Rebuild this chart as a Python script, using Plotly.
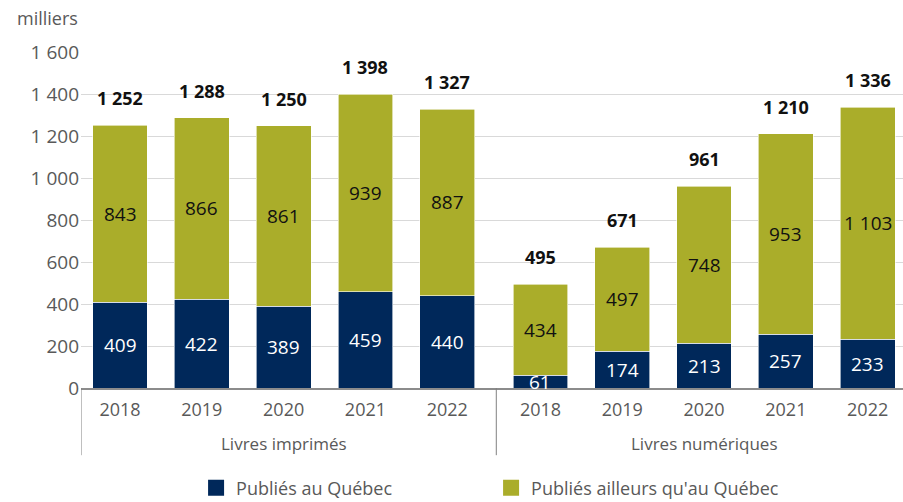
import plotly.graph_objects as go

groups = ["Livres imprimés", "Livres numériques"]
years = ["2018", "2019", "2020", "2021", "2022"]
quebec = [[409, 422, 389, 459, 440], [61, 174, 213, 257, 233]]
ailleurs = [[843, 866, 861, 939, 887], [434, 497, 748, 953, 1103]]
totals = [[1252, 1288, 1250, 1398, 1327], [495, 671, 961, 1210, 1336]]
y_ticks = [0, 200, 400, 600, 800, 1000, 1200, 1400, 1600]
series_names = ["Publiés au Québec", "Publiés ailleurs qu'au Québec"]

NAVY = "#00285a"
OLIVE = "#aaad2a"
GRAY = "#595959"
FONT = "Open Sans"
GAP = 0.14

def fmt(v):
    return f"{v:,}".replace(",", " ")

xs, q_flat, a_flat, t_flat, year_lbl = [], [], [], [], []
for gi in range(len(groups)):
    for yi, yr in enumerate(years):
        xs.append(gi * (len(years) + GAP) + yi)
        q_flat.append(quebec[gi][yi])
        a_flat.append(ailleurs[gi][yi])
        t_flat.append(totals[gi][yi])
        year_lbl.append(yr)

fig = go.Figure()
fig.add_trace(go.Bar(x=xs, y=q_flat, name=series_names[0], marker=dict(color=NAVY, line=dict(color="white", width=0.6)),
                     width=0.67, showlegend=False, hoverinfo="y"))
fig.add_trace(go.Bar(x=xs, y=a_flat, name=series_names[1], marker=dict(color=OLIVE, line=dict(color="white", width=0.6)),
                     width=0.67, showlegend=False, hoverinfo="y"))
# legend entries
for nm, col in zip(series_names, [NAVY, OLIVE]):
    fig.add_trace(go.Scatter(x=[None], y=[None], mode="markers", name=nm,
                             marker=dict(symbol="square", size=18, color=col)))

ann = []
for x, q, a, t in zip(xs, q_flat, a_flat, t_flat):
    ann.append(dict(x=x, y=q / 2, text=fmt(q), showarrow=False, font=dict(family=FONT, size=19, color="white")))
    ann.append(dict(x=x, y=q + a / 2, text=fmt(a), showarrow=False, font=dict(family=FONT, size=19, color="#111111")))
    ann.append(dict(x=x, y=t, text="<b>" + fmt(t) + "</b>", showarrow=False, yanchor="bottom", yshift=13,
                    font=dict(family=FONT, size=18, color="#111111")))
for gi, g in enumerate(groups):
    mid = gi * (len(years) + GAP) + (len(years) - 1) / 2
    ann.append(dict(x=mid, y=-0.165, yref="paper", text=g, showarrow=False, yanchor="middle",
                    font=dict(family=FONT, size=17, color=GRAY)))
ann.append(dict(x=-0.0803, xref="paper", xanchor="left", y=1, yref="paper", yanchor="bottom", yshift=20,
                text="milliers", showarrow=False, font=dict(family=FONT, size=18, color=GRAY)))

x0 = -0.477
x1 = 9.572
shapes = []
shapes.append(dict(type="line", xref="x", yref="paper", x0=x0, x1=x0, y0=0, y1=-0.2, line=dict(color="#808080", width=1)))
mid_div = (len(years) - 1) + (1 + GAP) / 2 + 0.03
shapes.append(dict(type="line", xref="x", yref="paper", x0=mid_div, x1=mid_div, y0=0, y1=-0.2, line=dict(color="#808080", width=1)))

fig.update_layout(
    barmode="stack",
    width=903, height=502,
    margin=dict(l=81, r=0, t=52, b=114, autoexpand=False),
    paper_bgcolor="white", plot_bgcolor="white",
    font=dict(family=FONT, size=17, color=GRAY),
    xaxis=dict(range=[x0, x1], tickvals=xs, ticktext=year_lbl, showgrid=False, zeroline=False,
               showline=True, linecolor="#8c8c8c", linewidth=1.5, ticks="", ticklabelstandoff=5,
               tickfont=dict(size=18, color=GRAY)),
    yaxis=dict(range=[0, 1600], tickvals=y_ticks, ticktext=[fmt(v) for v in y_ticks], showgrid=True,
               gridcolor="#d9d9d9", gridwidth=1, zeroline=False, ticks="", ticklabelstandoff=1,
               tickfont=dict(size=19, color=GRAY)),
    legend=dict(orientation="h", traceorder="normal", x=0.14, xanchor="left", y=-0.298, yanchor="middle",
                entrywidth=250, font=dict(family=FONT, size=18, color=GRAY)),
    annotations=ann,
    shapes=shapes,
)
fig.write_html("out.html", config={"displayModeBar": False},
               post_script="document.body.style.margin='0';document.body.style.overflow='hidden';")
